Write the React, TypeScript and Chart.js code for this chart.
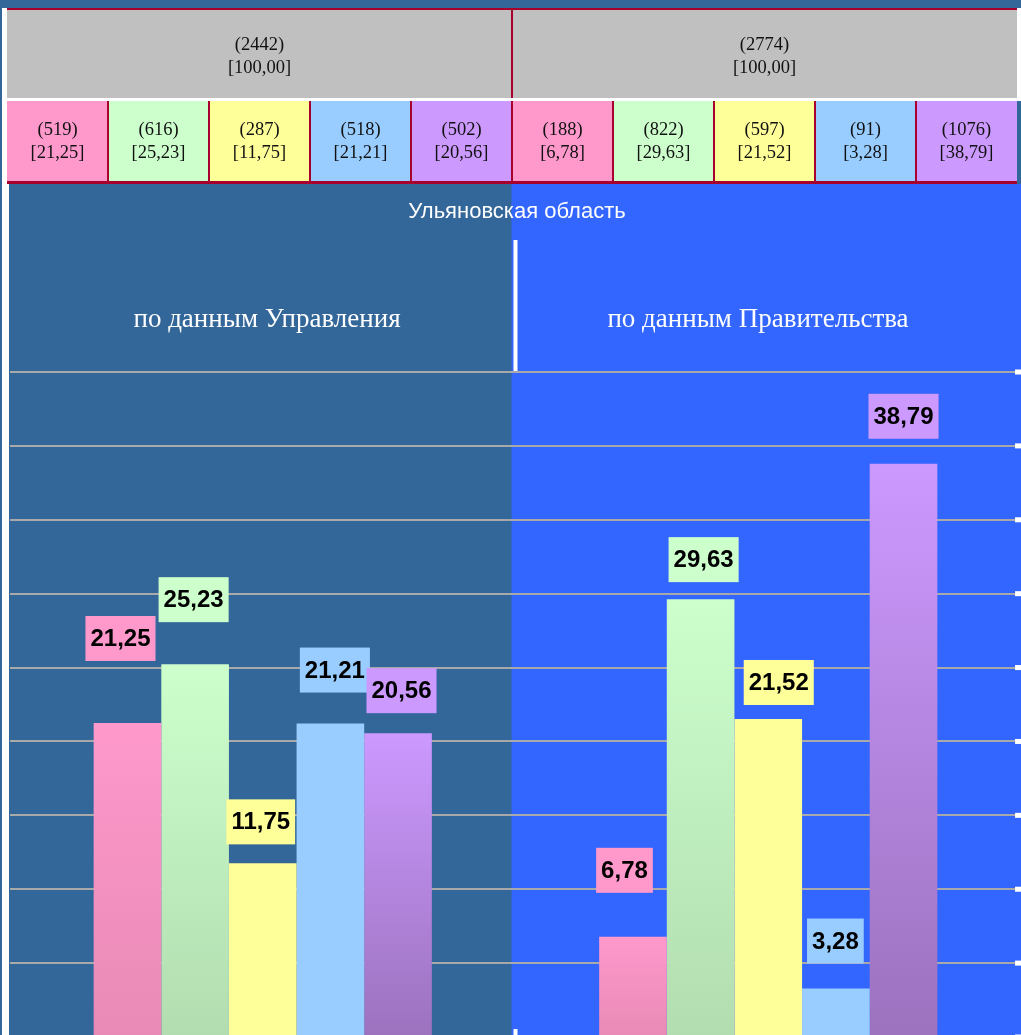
import React, { useEffect, useRef } from 'react';
import { Chart, registerables } from 'chart.js';

Chart.register(...registerables);

// ---- data ----
const categories = ['по данным Управления', 'по данным Правительства'];
const regionTitle = 'Ульяновская область';

const pinkValues = [21.25, 6.78];
const greenValues = [25.23, 29.63];
const yellowValues = [11.75, 21.52];
const blueValues = [21.21, 3.28];
const purpleValues = [20.56, 38.79];

const pinkCounts = [519, 188];
const greenCounts = [616, 822];
const yellowCounts = [287, 597];
const blueCounts = [518, 91];
const purpleCounts = [502, 1076];

const totalCounts = [2442, 2774];
const totalPercents = [100.0, 100.0];

const yMin = 0;
const yMax = 45;
const yStep = 5;

// ---- styles ----
const seriesValues = [pinkValues, greenValues, yellowValues, blueValues, purpleValues];
const seriesCounts = [pinkCounts, greenCounts, yellowCounts, blueCounts, purpleCounts];
const seriesTop = ['#FF99CC', '#CCFFCC', '#FFFF99', '#99CCFF', '#CC99FF'];
const seriesBottom = ['#E88AB5', '#B2DDB0', '#FFFF99', '#99CCFF', '#9C72BE'];
// label box placement relative to the bar (dx from bar centre, gap above bar top)
const labelDx = [[-7, -8.5], [-1.5, 3], [-2, 10.5], [4.5, -0.5], [3.5, 0]];
const labelGap = [[62, 44], [42, 17], [19, 14], [31, 25], [20, 25]];
const subtitleX = [267, 758];

const BG_LEFT = '#336699';
const BG_RIGHT = '#3366FF';
const CRIMSON = '#A8002D';
const SERIF = '"Liberation Serif", "Times New Roman", serif';
const SANS = '"Liberation Sans", Arial, sans-serif';

const fmt = (v: number) => v.toFixed(2).replace('.', ',');

function barFill(top: string, bottom: string) {
  return (ctx: any) => {
    if (top === bottom || ctx.type !== 'data') return top;
    const chart = ctx.chart;
    const y = chart.scales && chart.scales.y;
    if (!y) return top;
    const yTop = y.getPixelForValue(ctx.raw);
    const yBot = y.getPixelForValue(0);
    if (!isFinite(yTop) || !isFinite(yBot) || yTop === yBot) return top;
    const g = chart.ctx.createLinearGradient(0, yTop, 0, yBot);
    g.addColorStop(0, top);
    g.addColorStop(1, bottom);
    return g;
  };
}

const decorPlugin = {
  id: 'decor',
  beforeDraw(chart: any) {
    const { ctx, width, height, scales } = chart;
    const xs = scales.x;
    const mid = (xs.getPixelForValue(0) + xs.getPixelForValue(1)) / 2;
    ctx.save();
    // backgrounds
    ctx.fillStyle = BG_LEFT;
    ctx.fillRect(0, 0, width, height);
    ctx.fillStyle = BG_RIGHT;
    ctx.fillRect(mid - 4, 184, width - (mid - 4), height - 184);
    // white frame strips
    ctx.fillStyle = '#FFFFFF';
    ctx.fillRect(2, 8, 7, height - 8);
    ctx.fillRect(1017, 8, 4, 93);

    // table
    const tL = 7, tR = 1017;
    const tW = tR - tL;
    ctx.fillStyle = '#C0C0C0';
    ctx.fillRect(tL, 8, tW, 90);
    ctx.fillStyle = '#FFFFFF';
    ctx.fillRect(tL, 98, tW, 3);
    ctx.fillStyle = CRIMSON;
    ctx.fillRect(tL, 8, tW, 2);
    ctx.fillRect(tL + tW / 2 - 1, 8, 2, 90);

    ctx.textAlign = 'center';
    ctx.textBaseline = 'middle';
    ctx.font = `18.5px ${SERIF}`;
    for (let g = 0; g < 2; g++) {
      const cx = tL + tW / 4 + g * (tW / 2);
      ctx.fillStyle = '#111111';
      ctx.fillText(`(${totalCounts[g]})`, cx, 45);
      ctx.fillText(`[${fmt(totalPercents[g])}]`, cx, 68);
    }
    const cellW = tW / 10;
    for (let g = 0; g < 2; g++) {
      for (let s = 0; s < 5; s++) {
        const idx = g * 5 + s;
        const x0 = tL + idx * cellW;
        ctx.fillStyle = seriesTop[s];
        ctx.fillRect(x0, 101, cellW, 81);
        ctx.fillStyle = '#111111';
        ctx.fillText(`(${seriesCounts[s][g]})`, x0 + cellW / 2, 130.5);
        ctx.fillText(`[${fmt(seriesValues[s][g])}]`, x0 + cellW / 2, 153.5);
      }
    }
    ctx.fillStyle = CRIMSON;
    for (let k = 1; k < 10; k++) ctx.fillRect(tL + k * cellW - 1, 101, 2, 81);
    ctx.fillRect(tL, 181, tW, 3);

    // titles
    ctx.fillStyle = '#FFFFFF';
    ctx.font = `22px ${SANS}`;
    ctx.fillText(regionTitle, 517, 212);
    ctx.font = `27px ${SERIF}`;
    for (let g = 0; g < 2; g++) ctx.fillText(categories[g], subtitleX[g], 320);

    // divider between panel headers
    ctx.fillRect(mid - 2, 240, 4, chart.chartArea.top - 240);
    ctx.restore();
  },
  afterDatasetsDraw(chart: any) {
    const { ctx, scales, chartArea } = chart;
    const xs = scales.x;
    const ys = scales.y;
    const mid = (xs.getPixelForValue(0) + xs.getPixelForValue(1)) / 2;
    ctx.save();
    ctx.font = `bold 24px ${SANS}`;
    ctx.textAlign = 'center';
    ctx.textBaseline = 'middle';
    for (let s = 0; s < 5; s++) {
      const meta = chart.getDatasetMeta(s);
      meta.data.forEach((el: any, j: number) => {
        const text = fmt(seriesValues[s][j]);
        const w = ctx.measureText(text).width + 10;
        const h = 45;
        const cx = el.x + labelDx[s][j];
        const bottom = el.y - labelGap[s][j];
        ctx.fillStyle = seriesTop[s];
        ctx.fillRect(cx - w / 2, bottom - h, w, h);
        ctx.fillStyle = '#000000';
        ctx.fillText(text, cx, bottom - h / 2 + 1);
      });
    }
    // white tick marks on right edge and at category boundary
    ctx.fillStyle = '#FFFFFF';
    for (let v = yMin; v <= yMax; v += yStep) {
      const py = ys.getPixelForValue(v);
      ctx.fillRect(chartArea.right - 6, py - 2.5, 6, 5);
    }
    ctx.fillRect(mid - 2, 1029, 4, 8);
    ctx.restore();
  },
};

export default function App() {
  const ref = useRef<HTMLCanvasElement>(null);
  useEffect(() => {
    const canvas = ref.current;
    if (!canvas) return;
    const chart = new Chart(canvas, {
      type: 'bar',
      data: {
        labels: categories,
        datasets: seriesValues.map((vals, s) => ({
          label: `Серия ${s + 1}`,
          data: vals,
          backgroundColor: barFill(seriesTop[s], seriesBottom[s]),
          borderWidth: 0,
          categoryPercentage: 0.669,
          barPercentage: 1,
        })),
      },
      options: {
        animation: false,
        responsive: false,
        devicePixelRatio: 1,
        layout: { padding: { left: 10, right: 0, top: 372, bottom: 3 } },
        plugins: {
          legend: { display: false },
          tooltip: { enabled: false },
          title: { display: false },
        },
        scales: {
          x: { display: false },
          y: {
            min: yMin,
            max: yMax,
            ticks: { stepSize: yStep, display: false },
            grid: { color: '#A9A9A9', lineWidth: 2, drawTicks: false },
            border: { display: false },
          },
        },
      },
      plugins: [decorPlugin],
    } as any);
    return () => chart.destroy();
  }, []);
  return (
    <div style={{ position: 'fixed', left: 0, top: 0, width: 1021, height: 1035, overflow: 'hidden' }}>
      <canvas ref={ref} width={1021} height={1040} style={{ display: 'block', width: 1021, height: 1040 }} />
    </div>
  );
}
